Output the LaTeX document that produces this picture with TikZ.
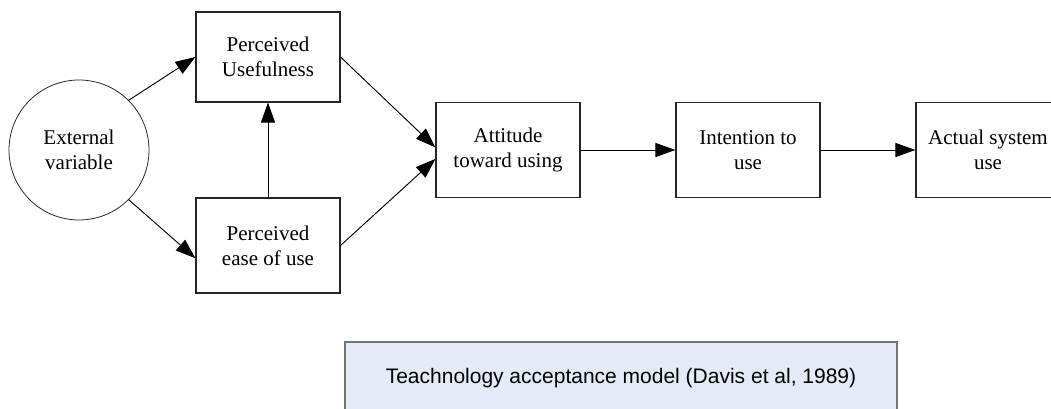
\documentclass[tikz,border=0pt]{standalone}
\usepackage{fontspec}
\setmainfont{Liberation Serif}
\newfontfamily\diafont{Liberation Serif}
\newfontfamily\capfont{Liberation Sans}
\usetikzlibrary{arrows.meta}
\definecolor{capblue}{RGB}{229,235,246}
\begin{document}
\begin{tikzpicture}[x=0.75pt,y=-0.75pt,>={Triangle[length=15pt,width=10.5pt]},font={\diafont\fontsize{15.75}{18.9}\selectfont}]
        \tikzstyle{factor}=[rectangle,draw=black!85,line width=0.8pt,minimum width=108pt,minimum height=71.25pt,inner sep=0pt,align=center]
        \tikzstyle{extvar}=[circle,draw=black!85,line width=0.6pt,minimum size=105pt,inner sep=0pt,align=center]
        \tikzstyle{link}=[draw,->,line width=0.7pt]
        \tikzstyle{caption}=[rectangle,draw=black!55,line width=0.8pt,fill=capblue,minimum width=414pt,minimum height=54pt,font={\capfont\fontsize{15.75}{18.9}\selectfont}]
       \begin{scope}
         \clip (0,0) rectangle (1051,409);
         \node [extvar] (ext) at (79,150) {External\\variable};
         \node [factor,minimum height=67.5pt] (pu) at (268,57) {Perceived\\Usefulness};
         \node [factor] (peou) at (268,245.5) {Perceived\\ease of use};
         \node [factor] (att) at (508,150) {Attitude\\toward using};
         \node [factor] (int) at (748,150) {Intention to\\use};
         \node [factor] (act) at (988,150) {Actual system\\use};
         \node [caption] (tam) at (621,378) {Teachnology acceptance model (Davis et al, 1989)};

         \path[link] (ext.45) -- (pu.west);
         \path[link] (ext.-45) -- (peou.190);
         \path[link] (peou) -- (pu);
         \path[link] (pu.east) -- (att.178);
         \path[link] (peou.east) -- (att.187);
         \path[link] (att) -- (int);
         \path[link] (int) -- (act);
        \end{scope}
      \end{tikzpicture}
\end{document}
